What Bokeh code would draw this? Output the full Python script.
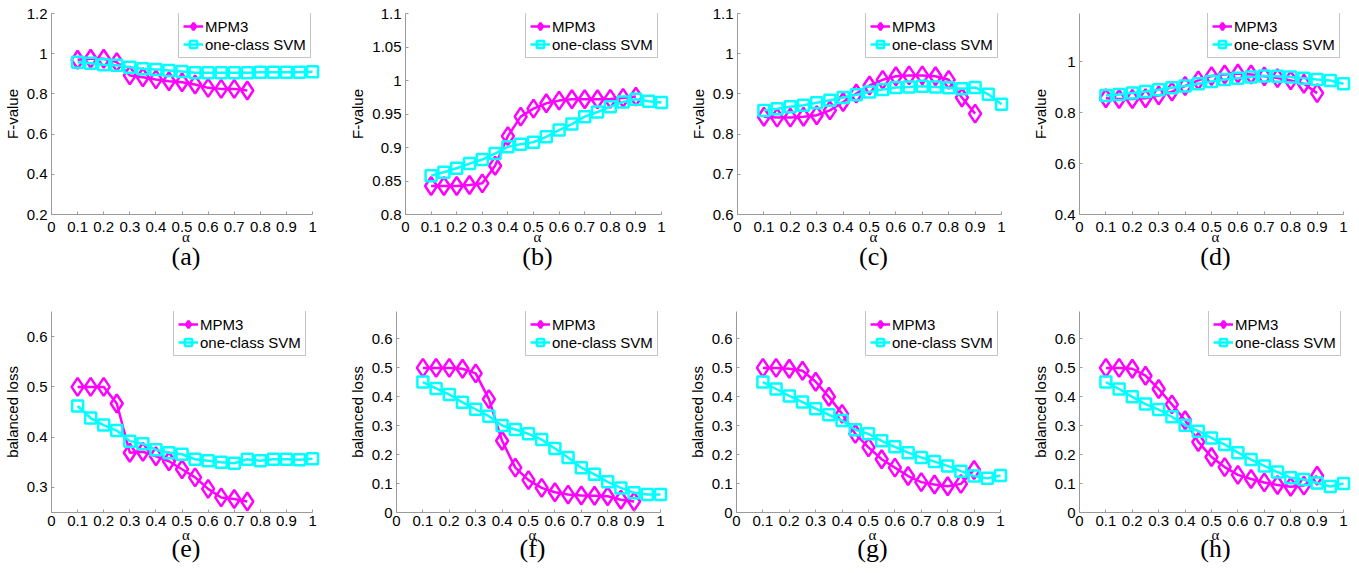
from bokeh.plotting import figure
from bokeh.layouts import column, row
from bokeh.models import Range1d, FixedTicker, Title
from bokeh.embed import file_html
from bokeh.resources import INLINE

# ---------------- data ----------------
alpha = [0.1, 0.15, 0.2, 0.25, 0.3, 0.35, 0.4, 0.45, 0.5, 0.55,
         0.6, 0.65, 0.7, 0.75, 0.8, 0.85, 0.9, 0.95, 1.0]

mpm3_a = [0.97, 0.975, 0.975, 0.958, 0.892, 0.883, 0.872, 0.863, 0.858, 0.847,
          0.83, 0.825, 0.825, 0.817]
svm_a = [0.958, 0.953, 0.945, 0.942, 0.933, 0.925, 0.922, 0.917, 0.912, 0.905,
         0.905, 0.905, 0.905, 0.905, 0.908, 0.908, 0.908, 0.908, 0.91]

mpm3_b = [0.8425, 0.8425, 0.8425, 0.844, 0.8465, 0.8727, 0.917, 0.946, 0.958, 0.966,
          0.97, 0.972, 0.972, 0.972, 0.9725, 0.974, 0.976]
svm_b = [0.858, 0.863, 0.869, 0.876, 0.882, 0.891, 0.901, 0.905, 0.908, 0.916,
         0.926, 0.935, 0.946, 0.953, 0.961, 0.968, 0.972, 0.969, 0.967]

mpm3_c = [0.843, 0.841, 0.841, 0.843, 0.847, 0.859, 0.88, 0.901, 0.921, 0.935,
          0.944, 0.946, 0.946, 0.944, 0.935, 0.891, 0.851]
svm_c = [0.859, 0.863, 0.868, 0.872, 0.878, 0.884, 0.891, 0.898, 0.905, 0.911,
         0.916, 0.917, 0.919, 0.917, 0.915, 0.913, 0.916, 0.899, 0.874]

mpm3_d = [0.857, 0.854, 0.854, 0.857, 0.868, 0.883, 0.905, 0.927, 0.944, 0.95,
          0.954, 0.95, 0.943, 0.936, 0.927, 0.914, 0.877]
svm_d = [0.868, 0.872, 0.878, 0.883, 0.89, 0.898, 0.905, 0.914, 0.923, 0.931,
         0.936, 0.94, 0.944, 0.943, 0.94, 0.936, 0.931, 0.927, 0.914]

mpm3_e = [0.5, 0.5, 0.5, 0.467, 0.369, 0.371, 0.362, 0.352, 0.336, 0.32,
          0.297, 0.28, 0.277, 0.272]
svm_e = [0.462, 0.438, 0.424, 0.413, 0.392, 0.387, 0.375, 0.369, 0.366, 0.356,
         0.353, 0.35, 0.348, 0.356, 0.353, 0.356, 0.356, 0.355, 0.357]

mpm3_f = [0.5, 0.5, 0.5, 0.497, 0.481, 0.392, 0.248, 0.155, 0.112, 0.085,
          0.07, 0.062, 0.059, 0.058, 0.056, 0.044, 0.038]
svm_f = [0.451, 0.429, 0.408, 0.381, 0.357, 0.333, 0.301, 0.287, 0.272, 0.252,
         0.221, 0.19, 0.155, 0.132, 0.106, 0.085, 0.068, 0.062, 0.062]

mpm3_g = [0.5, 0.5, 0.497, 0.49, 0.452, 0.4, 0.341, 0.272, 0.225, 0.184,
          0.155, 0.126, 0.105, 0.097, 0.091, 0.099, 0.147]
svm_g = [0.451, 0.427, 0.403, 0.382, 0.359, 0.338, 0.318, 0.286, 0.272, 0.248,
         0.227, 0.207, 0.19, 0.176, 0.161, 0.143, 0.126, 0.118, 0.128]

mpm3_h = [0.5, 0.5, 0.497, 0.473, 0.427, 0.374, 0.319, 0.244, 0.192, 0.157,
          0.13, 0.116, 0.104, 0.095, 0.089, 0.093, 0.127]
svm_h = [0.451, 0.427, 0.4, 0.375, 0.356, 0.331, 0.302, 0.281, 0.258, 0.235,
         0.207, 0.183, 0.161, 0.14, 0.12, 0.114, 0.102, 0.09, 0.1]

x_ticks = [0, 0.1, 0.2, 0.3, 0.4, 0.5, 0.6, 0.7, 0.8, 0.9, 1]
x_tick_labels = ["0", "0.1", "0.2", "0.3", "0.4", "0.5", "0.6", "0.7", "0.8", "0.9", "1"]

y_ticks_a = [0.2, 0.4, 0.6, 0.8, 1.0, 1.2]
y_labels_a = ["0.2", "0.4", "0.6", "0.8", "1", "1.2"]
y_ticks_b = [0.8, 0.85, 0.9, 0.95, 1.0, 1.05, 1.1]
y_labels_b = ["0.8", "0.85", "0.9", "0.95", "1", "1.05", "1.1"]
y_ticks_c = [0.6, 0.7, 0.8, 0.9, 1.0, 1.1]
y_labels_c = ["0.6", "0.7", "0.8", "0.9", "1", "1.1"]
y_ticks_d = [0.4, 0.6, 0.8, 1.0]
y_labels_d = ["0.4", "0.6", "0.8", "1"]
y_ticks_e = [0.3, 0.4, 0.5, 0.6]
y_labels_e = ["0.3", "0.4", "0.5", "0.6"]
y_ticks_fgh = [0, 0.1, 0.2, 0.3, 0.4, 0.5, 0.6]
y_labels_fgh = ["0", "0.1", "0.2", "0.3", "0.4", "0.5", "0.6"]

series_names = ["MPM3", "one-class SVM"]
captions = ["(a)", "(b)", "(c)", "(d)", "(e)", "(f)", "(g)", "(h)"]
x_title = "\u03b1"
y_titles = ["F-value", "balanced loss"]

# ---------------- style / layout ----------------
MAG = "#FF00FF"
CYA = "#00FFFF"
AX = "#9a9a9a"
SANS = "Liberation Sans"
SERIF = "Liberation Serif"
PAD = 8  # extra px to the right of x=1 so end markers are not clipped
FRAME_H = 201

# per-row text placement: (tick label standoff, alpha title standoff, caption standoff)
ROW_TEXT = [(7, -16, 6), (3, -8, -14)]


def make_panel(mpm, svm, ylab, yr, yt, ytl, cap, width, height, left, top, bottom,
               data_w, leg_x, cap_px, row_idx):
    frame_w = data_w + PAD
    right = width - left - frame_w
    p = figure(width=width, height=height, output_backend="svg", toolbar_location=None,
               x_range=Range1d(0, 1 + PAD / data_w), y_range=Range1d(*yr),
               min_border_left=left, min_border_right=right,
               min_border_top=top, min_border_bottom=bottom,
               background_fill_color="white", border_fill_color="white")
    p.outline_line_color = None
    p.grid.visible = False

    p.line(alpha[:len(mpm)], mpm, line_color=MAG, line_width=2.5, legend_label=series_names[0])
    p.scatter(alpha[:len(mpm)], mpm, marker="diamond", size=18, line_color=MAG,
              fill_color=None, line_width=2.5, legend_label=series_names[0])
    p.line(alpha[:len(svm)], svm, line_color=CYA, line_width=2.5, legend_label=series_names[1])
    p.scatter(alpha[:len(svm)], svm, marker="square", size=11, line_color=CYA,
              fill_color=None, line_width=2.5, legend_label=series_names[1])

    for ax in (p.xaxis[0], p.yaxis[0]):
        ax.axis_line_color = AX
        ax.major_tick_line_color = AX
        ax.major_tick_in = 3
        ax.major_tick_out = 0
        ax.minor_tick_line_color = None
        ax.major_label_text_font = SANS
        ax.major_label_text_color = "black"
        ax.axis_label_text_color = "black"
        ax.axis_label_text_font_style = "normal"

    ls, a_so, c_so = ROW_TEXT[row_idx]
    xa = p.xaxis[0]
    xa.ticker = FixedTicker(ticks=x_ticks)
    xa.major_label_overrides = dict(zip(x_ticks, x_tick_labels))
    xa.bounds = (0, 1)
    xa.major_label_text_font_size = "15px"
    xa.major_label_standoff = ls

    ya = p.yaxis[0]
    ya.ticker = FixedTicker(ticks=yt)
    ya.major_label_overrides = dict(zip(yt, ytl))
    ya.major_label_text_font_size = "15px"
    ya.major_label_standoff = 4
    ya.axis_label = ylab
    ya.axis_label_text_font = SANS
    ya.axis_label_text_font_size = "15px"
    ya.axis_label_standoff = 3

    off = cap_px - frame_w / 2
    p.add_layout(Title(text=x_title, align="center", offset=off, standoff=a_so,
                       text_font=SERIF, text_font_size="15px", text_font_style="normal",
                       text_color="black"), "below")
    p.add_layout(Title(text=cap, align="center", offset=off, standoff=c_so,
                       text_font=SERIF, text_font_size="26px", text_font_style="normal",
                       text_color="black"), "below")

    lg = p.legend[0]
    lg.location = (leg_x, FRAME_H - 1 - 44)
    lg.label_text_font = SANS
    lg.label_text_font_size = "15px"
    lg.label_text_color = "black"
    lg.glyph_width = 20
    lg.glyph_height = 18
    lg.label_height = 18
    lg.label_standoff = 2
    lg.spacing = 0
    lg.padding = 4
    lg.margin = 0
    lg.border_line_color = "#8c8c8c"
    lg.border_line_width = 1
    lg.background_fill_color = "white"
    lg.background_fill_alpha = 1.0
    return p


panels = [
    (mpm3_a, svm_a, y_titles[0], (0.2, 1.2), y_ticks_a, y_labels_a, captions[0], 345, 290, 49, 13, 76, 263, 127, 128, 0),
    (mpm3_b, svm_b, y_titles[0], (0.8, 1.1), y_ticks_b, y_labels_b, captions[1], 340, 290, 60, 13, 76, 256, 120, 117, 0),
    (mpm3_c, svm_c, y_titles[0], (0.6, 1.1), y_ticks_c, y_labels_c, captions[2], 340, 290, 52, 13, 76, 264, 128, 131, 0),
    (mpm3_d, svm_d, y_titles[0], (0.4, 1.19), y_ticks_d, y_labels_d, captions[3], 334, 290, 54, 13, 76, 264, 128, 129, 0),
    (mpm3_e, svm_e, y_titles[1], (0.25, 0.65), y_ticks_e, y_labels_e, captions[4], 345, 283, 49, 21, 61, 263, 122, 128, 1),
    (mpm3_f, svm_f, y_titles[1], (0, 0.695), y_ticks_fgh, y_labels_fgh, captions[5], 340, 283, 51, 21, 61, 264, 129, 130, 1),
    (mpm3_g, svm_g, y_titles[1], (0, 0.695), y_ticks_fgh, y_labels_fgh, captions[6], 340, 283, 51, 21, 61, 264, 129, 129, 1),
    (mpm3_h, svm_h, y_titles[1], (0, 0.695), y_ticks_fgh, y_labels_fgh, captions[7], 334, 283, 54, 21, 61, 264, 129, 131, 1),
]

figs = [make_panel(*args) for args in panels]
layout = column(row(*figs[:4], spacing=0), row(*figs[4:], spacing=0), spacing=0)

open("out.html", "w").write(file_html(layout, INLINE))
